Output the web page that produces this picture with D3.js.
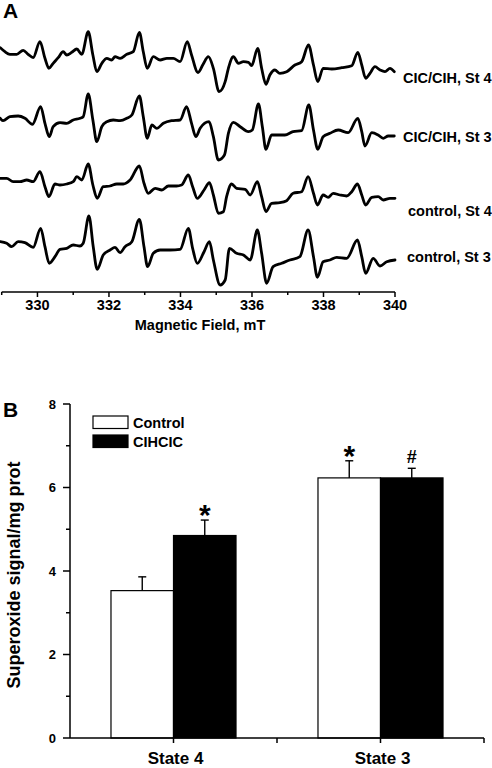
<!DOCTYPE html>
<html>
<head>
<meta charset="utf-8">
<script src="https://cdn.jsdelivr.net/npm/d3@7"></script>
<style>
  html, body { margin: 0; padding: 0; background: #fff; }
  svg { display: block; }
  text { font-family: "Liberation Sans", Arial, Helvetica, sans-serif; font-weight: bold; fill: #000; }
</style>
</head>
<body>
<div id="chart"></div>
<script>
// ---------- Panel A data: EPR spectra (field in mT, stacked signal in a.u.) ----------
const fieldTicks = [329, 330, 331, 332, 333, 334, 335, 336, 337, 338, 339, 340];
const traceNames = ["CIC/CIH, St 4", "CIC/CIH, St 3", "control, St 4", "control, St 3"];

const traceCicSt4 = [[328.96,244.3],[329.09,240.3],[329.23,237.7],[329.42,237.7],[329.60,241.7],[329.74,237.7],[329.88,234.3],[330.07,250.3],[330.21,233.7],[330.32,223.7],[330.44,228.7],[330.58,234.3],[330.72,240.3],[330.82,237],[330.96,239.7],[331.10,243],[331.24,237.7],[331.42,260.3],[331.55,237],[331.66,220.3],[331.80,228.7],[331.94,233.7],[332.08,232],[332.17,235.3],[332.31,233.7],[332.50,237.7],[332.68,240.3],[332.85,259.7],[332.96,240.3],[333.07,223.7],[333.24,235.3],[333.43,232],[333.62,233.7],[333.80,233.7],[333.99,230.3],[334.19,250.3],[334.31,237],[334.49,219.5],[334.63,227.5],[334.78,235.3],[334.92,223.7],[335.08,200.3],[335.25,210.3],[335.34,223.7],[335.48,235.3],[335.62,228.7],[335.76,230.3],[335.90,229.7],[335.99,226.3],[336.16,243.7],[336.27,223.7],[336.39,207.7],[336.50,217],[336.64,222],[336.78,218.7],[336.97,220.3],[337.20,227],[337.39,230.3],[337.58,247],[337.72,227],[337.84,210.3],[337.99,223.7],[338.23,223],[338.51,224.3],[338.79,226.3],[338.96,239.7],[339.07,227],[339.18,213.7],[339.30,218.7],[339.44,225.3],[339.58,222],[339.72,220.3],[339.86,223.7],[339.98,220.3]];

const traceCicSt3 = [[328.96,173.7],[329.04,171.3],[329.23,175.3],[329.46,176],[329.65,173.7],[329.86,167.7],[330.09,185.3],[330.21,168.7],[330.33,155.3],[330.44,165.3],[330.63,169.3],[330.82,168.7],[331.00,172],[331.19,173.7],[331.28,175.3],[331.42,198],[331.55,172],[331.66,150.3],[331.80,165.3],[331.94,170.3],[332.12,172],[332.31,171.3],[332.50,173.7],[332.64,177],[332.85,196],[332.96,175.3],[333.07,153.7],[333.20,167],[333.34,163.7],[333.52,168.7],[333.75,171.3],[333.99,172],[334.17,185.3],[334.31,168.7],[334.43,155.3],[334.55,163.7],[334.80,170.3],[334.92,155.3],[335.06,132],[335.23,137],[335.34,158.7],[335.48,169.7],[335.67,165.3],[335.90,160.3],[336.01,162],[336.18,188],[336.29,165.3],[336.39,142.7],[336.55,157],[336.74,157],[336.92,157],[337.15,160.3],[337.39,161.3],[337.59,187],[337.72,162],[337.84,142.7],[337.99,155.3],[338.18,158.7],[338.41,162],[338.69,159.3],[338.96,173.7],[339.07,160.3],[339.16,146],[339.35,159.3],[339.53,157],[339.67,153.7],[339.81,156],[339.98,156]];

const traceCtlSt4 = [[328.96,113.7],[329.14,113.7],[329.32,110.3],[329.51,110.3],[329.70,112],[329.88,110.3],[330.07,120.3],[330.21,105.3],[330.32,95.3],[330.49,108],[330.63,107],[330.82,108],[331.00,110.3],[331.10,115.3],[331.24,112],[331.42,128],[331.55,107],[331.67,93.7],[331.84,105.3],[332.03,106],[332.22,108],[332.40,108],[332.59,112],[332.85,126],[332.98,108.7],[333.10,98.7],[333.29,103.7],[333.48,102],[333.66,106],[333.89,106],[334.03,107],[334.22,117],[334.34,105.3],[334.47,93.7],[334.66,102],[334.81,109.3],[334.92,97],[335.06,78.7],[335.20,80.3],[335.29,95.3],[335.43,108],[335.57,103.7],[335.81,102.7],[335.95,97],[336.15,110.3],[336.27,95.3],[336.39,80.3],[336.55,88.7],[336.78,89.3],[336.97,91.3],[337.15,98.7],[337.39,100.3],[337.57,115.3],[337.72,98.7],[337.83,87],[337.99,97],[338.13,94.7],[338.27,98.7],[338.46,97],[338.65,96],[338.79,100.3],[338.95,108],[339.07,97],[339.18,87],[339.35,94.7],[339.53,95.3],[339.67,92],[339.86,93.7],[340.00,93.7]];

const traceCtlSt3 = [[328.96,50.3],[329.14,48.7],[329.28,45.3],[329.46,50.3],[329.65,49.3],[329.88,44.7],[330.09,63.7],[330.21,45.3],[330.33,28.7],[330.49,35.3],[330.63,42.7],[330.82,43.7],[331.00,47],[331.19,46],[331.28,48.7],[331.44,76],[331.56,45.3],[331.67,22.7],[331.84,37],[332.03,42],[332.17,44.7],[332.31,39.3],[332.45,45.3],[332.64,50.3],[332.85,72.7],[332.98,45.3],[333.08,25.3],[333.24,38.7],[333.43,42],[333.71,42],[333.99,42.7],[334.22,63.7],[334.34,43.7],[334.47,28.7],[334.66,40.3],[334.81,50.3],[334.92,32],[335.11,7],[335.25,12],[335.37,43.7],[335.57,38.7],[335.76,37],[335.95,32],[336.15,62],[336.27,38.7],[336.41,8.7],[336.59,25.3],[336.83,28.7],[337.06,32],[337.34,35.3],[337.57,62],[337.72,35.3],[337.83,14.7],[337.99,30.3],[338.18,32],[338.37,34.7],[338.65,33.7],[338.95,52],[339.07,35.3],[339.18,18.7],[339.39,33.7],[339.58,26],[339.77,30.3],[340.00,32]];

// ---------- Panel B data ----------
const states = ["State 4", "State 3"];
const groups = ["Control", "CIHCIC"];
const controlMean = [3.53, 6.23];
const controlErr = [0.33, 0.41];
const cihcicMean = [4.85, 6.23];
const cihcicErr = [0.37, 0.23];
const controlMark = ["", "*"];
const cihcicMark = ["*", "#"];
const yTicksB = [0, 1, 2, 3, 4, 5, 6, 7, 8];

// ---------- Drawing ----------
const W = 492, H = 768;
const svg = d3.select("#chart").append("svg").attr("width", W).attr("height", H);
svg.append("rect").attr("width", W).attr("height", H).attr("fill", "#fff");

// Panel A
const xA = d3.scaleLinear().domain([329, 340]).range([1.7, 395]);
const yA = d3.scaleLinear().domain([0, 292]).range([292, 0]);
const gA = svg.append("g");

gA.append("text").attr("x", 3).attr("y", 18).attr("font-size", 21).text("A");

const line = d3.line().x(d => xA(d[0])).y(d => yA(d[1])).curve(d3.curveMonotoneX);
const traces = [traceCicSt4, traceCicSt3, traceCtlSt4, traceCtlSt3];
gA.selectAll("path.trace").data(traces).join("path")
  .attr("class", "trace")
  .attr("d", line)
  .attr("fill", "none").attr("stroke", "#000")
  .attr("stroke-width", 2.8).attr("stroke-linejoin", "round").attr("stroke-linecap", "round");

const labelPos = [[403, 83], [403, 142], [408, 216], [407, 262]];
gA.selectAll("text.tlabel").data(traceNames).join("text")
  .attr("class", "tlabel")
  .attr("x", (d, i) => labelPos[i][0]).attr("y", (d, i) => labelPos[i][1])
  .attr("font-size", 14.5).text(d => d);

// x axis panel A
const axisA = gA.append("g").attr("transform", "translate(0,292)");
axisA.append("line").attr("x1", xA(329)).attr("x2", xA(340)).attr("stroke", "#000").attr("stroke-width", 1.5);
axisA.selectAll("line.tk").data(fieldTicks).join("line")
  .attr("class", "tk")
  .attr("x1", d => xA(d)).attr("x2", d => xA(d))
  .attr("y1", 0).attr("y2", d => d % 2 === 0 ? 5 : 3)
  .attr("stroke", "#000").attr("stroke-width", 1.5);
axisA.selectAll("text.tl").data(fieldTicks.filter(d => d % 2 === 0)).join("text")
  .attr("class", "tl")
  .attr("x", d => xA(d)).attr("y", 18).attr("text-anchor", "middle")
  .attr("font-size", 14.5).text(d => d);
gA.append("text").attr("x", 200).attr("y", 330).attr("text-anchor", "middle")
  .attr("font-size", 14.5).text("Magnetic Field, mT");

// Panel B
const yB = d3.scaleLinear().domain([0, 8]).range([738, 404]);
const xB = d3.scaleBand().domain(states).range([70, 484]).paddingInner(0.396).paddingOuter(0.198);
const xSub = d3.scaleBand().domain(groups).range([0, xB.bandwidth()]);
const gB = svg.append("g");

gB.append("text").attr("x", 3).attr("y", 417).attr("font-size", 21).text("B");

// bars
const barData = [];
states.forEach((s, i) => {
  barData.push({state: s, group: "Control", mean: controlMean[i], err: controlErr[i], mark: controlMark[i]});
  barData.push({state: s, group: "CIHCIC", mean: cihcicMean[i], err: cihcicErr[i], mark: cihcicMark[i]});
});
const fillOf = g => g === "Control" ? "#fff" : "#000";

const bx = d => xB(d.state) + xSub(d.group);
const cx = d => bx(d) + xSub.bandwidth() / 2;
gB.selectAll("line.eb").data(barData).join("line").attr("class", "eb")
  .attr("x1", cx).attr("x2", cx).attr("y1", d => yB(d.mean)).attr("y2", d => yB(d.mean + d.err))
  .attr("stroke", "#000").attr("stroke-width", 1.4);
gB.selectAll("line.ec").data(barData).join("line").attr("class", "ec")
  .attr("x1", d => cx(d) - 4).attr("x2", d => cx(d) + 4)
  .attr("y1", d => yB(d.mean + d.err)).attr("y2", d => yB(d.mean + d.err))
  .attr("stroke", "#000").attr("stroke-width", 1.4);

gB.selectAll("rect.bar").data(barData).join("rect").attr("class", "bar")
  .attr("x", bx).attr("width", xSub.bandwidth())
  .attr("y", d => yB(d.mean)).attr("height", d => yB(0) - yB(d.mean))
  .attr("fill", d => fillOf(d.group)).attr("stroke", "#000").attr("stroke-width", 1.2);

gB.selectAll("text.mk").data(barData.filter(d => d.mark)).join("text").attr("class", "mk")
  .attr("x", cx).attr("y", d => yB(d.mean + d.err) - (d.mark === "*" ? -5 : 5))
  .attr("text-anchor", "middle")
  .attr("font-size", d => d.mark === "*" ? 30 : 18)
  .text(d => d.mark);

// y axis
const axisY = gB.append("g");
axisY.append("line").attr("x1", 70).attr("x2", 70).attr("y1", yB(0)).attr("y2", yB(8))
  .attr("stroke", "#000").attr("stroke-width", 1.5);
axisY.selectAll("line.tk").data(yTicksB).join("line").attr("class", "tk")
  .attr("x1", d => d % 2 === 0 ? 63 : 66).attr("x2", 70)
  .attr("y1", d => yB(d)).attr("y2", d => yB(d))
  .attr("stroke", "#000").attr("stroke-width", 1.5);
axisY.selectAll("text.tl").data(yTicksB.filter(d => d % 2 === 0)).join("text").attr("class", "tl")
  .attr("x", 56).attr("y", d => yB(d) + 4.5).attr("text-anchor", "end")
  .attr("font-size", 13).text(d => d);
gB.append("text")
  .attr("transform", `translate(20,${yB(4) + 4}) rotate(-90)`)
  .attr("text-anchor", "middle").attr("font-size", 18)
  .text("Superoxide signal/mg prot");

// x axis
const axisX = gB.append("g").attr("transform", `translate(0,${yB(0)})`);
axisX.append("line").attr("x1", 70).attr("x2", 484).attr("stroke", "#000").attr("stroke-width", 1.5);
const tickXs = [];
states.forEach(s => tickXs.push(xB(s) + xB.bandwidth() / 2));
tickXs.push((xB(states[0]) + xB.bandwidth() + xB(states[1])) / 2);
tickXs.push(xB.range()[1]);
axisX.selectAll("line.tk").data(tickXs).join("line").attr("class", "tk")
  .attr("x1", d => d).attr("x2", d => d).attr("y1", 0).attr("y2", 5)
  .attr("stroke", "#000").attr("stroke-width", 1.5);
axisX.selectAll("text.tl").data(states).join("text").attr("class", "tl")
  .attr("x", d => xB(d) + xB.bandwidth() / 2 + 2).attr("y", 25.5).attr("text-anchor", "middle")
  .attr("font-size", 17).text(d => d);

// legend
const lg = gB.append("g");
groups.forEach((g, i) => {
  lg.append("rect").attr("x", 93).attr("y", 416 + i * 19).attr("width", 35).attr("height", 12.5)
    .attr("fill", fillOf(g)).attr("stroke", "#000").attr("stroke-width", 1.2);
  lg.append("text").attr("x", 133).attr("y", 427.5 + i * 19).attr("font-size", 14.5).text(g);
});
</script>
</body>
</html>
